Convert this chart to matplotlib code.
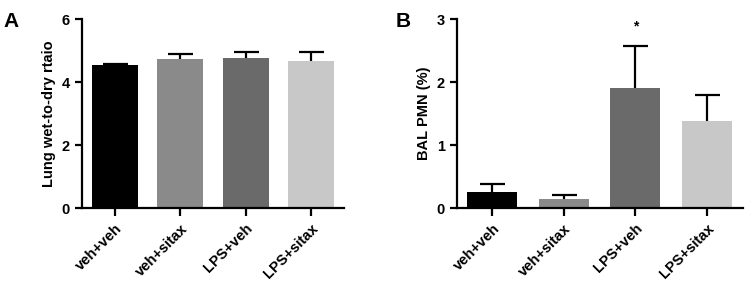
import numpy as np
import matplotlib.pyplot as plt

plt.rcParams['font.family'] = ['Liberation Sans', 'DejaVu Sans']
plt.rcParams['font.weight'] = 'bold'

# ===== data =====
groups = ['veh+veh', 'veh+sitax', 'LPS+veh', 'LPS+sitax']
colors = ['#000000', '#8a8a8a', '#6a6a6a', '#c8c8c8']

wet_dry_mean = [4.54, 4.75, 4.77, 4.68]
wet_dry_err = [0.05, 0.15, 0.20, 0.28]

pmn_mean = [0.25, 0.15, 1.90, 1.38]
pmn_err = [0.14, 0.06, 0.68, 0.41]
pmn_star = [False, False, True, False]

fig = plt.figure(figsize=(7.5, 2.81), dpi=100)
axA = fig.add_axes([0.109, 0.259, 0.350, 0.673])
axB = fig.add_axes([0.609, 0.259, 0.381, 0.673])


def draw(ax, means, errs, ymax, yticks, ylabel):
    x = np.arange(len(groups))
    # error bars sit behind the bars so only the upper half shows
    ax.errorbar(x, means, yerr=errs, fmt='none',
                ecolor='black', elinewidth=1.6, capsize=9, capthick=1.6, zorder=1)
    ax.bar(x, means, width=0.7, color=colors, zorder=2)
    ax.set_xlim(-0.5, 3.5)
    ax.set_ylim(0, ymax)
    ax.set_yticks(yticks)
    ax.set_xticks(x)
    ax.set_xticklabels(groups, rotation=45, ha='right', rotation_mode='anchor',
                       fontsize=10.5, fontweight='bold')
    ax.set_ylabel(ylabel, fontsize=10.5, fontweight='bold')
    for s in ['top', 'right']:
        ax.spines[s].set_visible(False)
    for s in ['left', 'bottom']:
        ax.spines[s].set_linewidth(1.6)
    ax.tick_params(axis='both', width=1.6, length=5, labelsize=10.5)
    ax.tick_params(axis='x', length=6)
    for lab in ax.get_yticklabels():
        lab.set_fontweight('bold')


draw(axA, wet_dry_mean, wet_dry_err, 6, [0, 2, 4, 6], 'Lung wet-to-dry rtaio')
draw(axB, pmn_mean, pmn_err, 3, [0, 1, 2, 3], 'BAL PMN (%)')

for i, flag in enumerate(pmn_star):
    if flag:
        axB.text(i, pmn_mean[i] + pmn_err[i] + 0.2, '*', ha='center', va='bottom',
                 fontsize=10, fontweight='bold')

fig.text(0.005, 0.925, 'A', fontsize=15, fontweight='bold', va='center')
fig.text(0.527, 0.925, 'B', fontsize=15, fontweight='bold', va='center')

plt.savefig('out.png', dpi=100)
